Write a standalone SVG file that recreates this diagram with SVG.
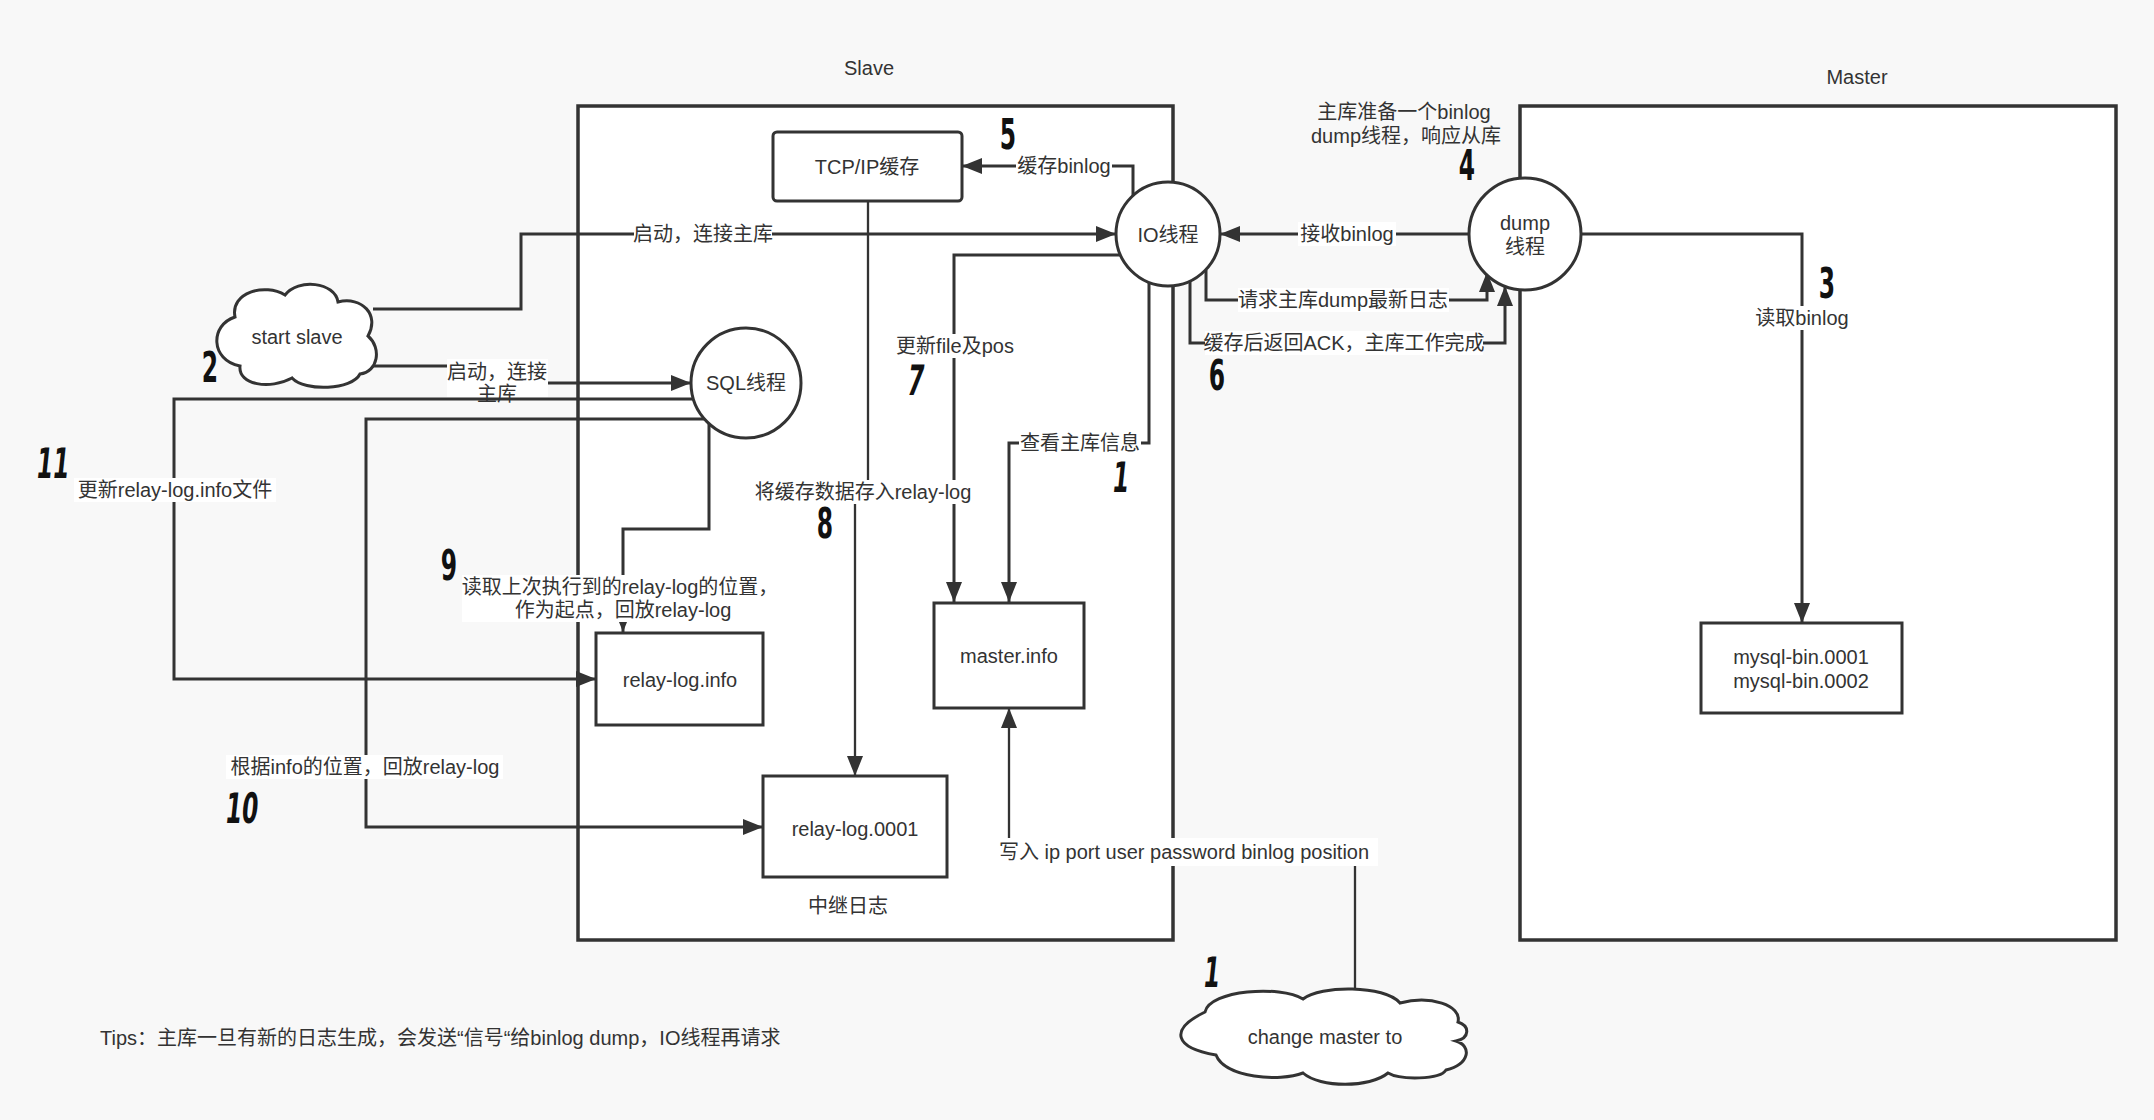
<svg xmlns="http://www.w3.org/2000/svg" width="2154" height="1120" viewBox="0 0 2154 1120">
<style>
text{font-family:"Liberation Sans","Noto Sans CJK SC",sans-serif;font-size:20px;fill:#333;}
.t{text-anchor:middle;dominant-baseline:central;}
.tl{text-anchor:start;dominant-baseline:central;}
.box{fill:#fff;stroke:#333;stroke-width:3;}
.frame{fill:#fff;stroke:#333;stroke-width:3.5;}
.c{fill:none;stroke:#333;stroke-width:3;}
.ct{fill:none;stroke:#333;stroke-width:2.3;}
.lb{fill:#fff;stroke:none;}
.num{font-family:"DejaVu Sans Condensed","Liberation Sans",sans-serif;font-size:42px;font-weight:bold;fill:#111;text-anchor:middle;dominant-baseline:central;}
</style>
<defs>
<marker id="ah" viewBox="0 0 20 16" refX="20" refY="8" markerWidth="20" markerHeight="16" markerUnits="userSpaceOnUse" orient="auto"><path d="M0,0 L20,8 L0,16 Z" fill="#333"/></marker>
</defs>
<rect x="0" y="0" width="2154" height="1120" fill="#f8f8f8"/>

<g id="slave-frame"><rect class="frame" x="578" y="106" width="595" height="834"/><text class="t" x="869" y="68">Slave</text></g>
<g id="master-frame"><rect class="frame" x="1520" y="106" width="596" height="834"/><text class="t" x="1857" y="77">Master</text></g>

<g id="connectors">
<path class="c" d="M373,309 H521 V234 H1116" marker-end="url(#ah)"/>
<path class="c" d="M372,366 H497 V383 H691" marker-end="url(#ah)"/>
<path class="c" d="M693,399 H174 V679 H596" marker-end="url(#ah)"/>
<path class="c" d="M704,419 H366 V827 H763" marker-end="url(#ah)"/>
<path class="c" d="M709,424 V529 H623 V632" marker-end="url(#ah)"/>
<path class="c" d="M1133,196 V166 H962" marker-end="url(#ah)"/>
<path class="ct" d="M868,201 V492 H855 V776" marker-end="url(#ah)"/>
<path class="c" d="M1120,255 H954 V602" marker-end="url(#ah)"/>
<path class="c" d="M1149,282 V443 H1009 V602" marker-end="url(#ah)"/>
<path class="c" d="M1469,234 H1220" marker-end="url(#ah)"/>
<path class="c" d="M1206,270 V300 H1487 V272" marker-end="url(#ah)"/>
<path class="c" d="M1190,281 V343 H1505 V286" marker-end="url(#ah)"/>
<path class="c" d="M1581,234 H1802 V623" marker-end="url(#ah)"/>
<path class="ct" d="M1355,992 V852 H1009 V708" marker-end="url(#ah)"/>
</g>

<g id="edge-labels">
<rect class="lb" x="634" y="222" width="138" height="24"/><text class="t" x="703" y="234">启动，连接主库</text>
<rect class="lb" x="447" y="359" width="101" height="38"/><text class="t" x="497" y="372">启动，连接</text><text class="t" x="497" y="394">主库</text>
<rect class="lb" x="74" y="478" width="202" height="24"/><text class="t" x="175" y="490">更新relay-log.info文件</text>
<rect class="lb" x="226" y="755" width="277" height="24"/><text class="t" x="365" y="767">根据info的位置，回放relay-log</text>
<rect class="lb" x="462" y="575" width="312" height="47"/><text class="t" x="620" y="587">读取上次执行到的relay-log的位置，</text><text class="t" x="623" y="610">作为起点，回放relay-log</text>
<rect class="lb" x="1016" y="154" width="96" height="24"/><text class="t" x="1064" y="166">缓存binlog</text>
<rect class="lb" x="751" y="480" width="224" height="24"/><text class="t" x="863" y="492">将缓存数据存入relay-log</text>
<rect class="lb" x="893" y="334" width="124" height="24"/><text class="t" x="955" y="346">更新file及pos</text>
<rect class="lb" x="1019" y="431" width="122" height="24"/><text class="t" x="1080" y="443">查看主库信息</text>
<rect class="lb" x="1298" y="222" width="98" height="24"/><text class="t" x="1347" y="234">接收binlog</text>
<rect class="lb" x="1238" y="288" width="211" height="24"/><text class="t" x="1343" y="300">请求主库dump最新日志</text>
<rect class="lb" x="1205" y="331" width="278" height="24"/><text class="t" x="1344" y="343">缓存后返回ACK，主库工作完成</text>
<rect class="lb" x="1755" y="306" width="95" height="24"/><text class="t" x="1802" y="318">读取binlog</text>
<rect class="lb" x="990" y="838" width="388" height="28"/><text class="t" x="1184" y="852">写入 ip port user password binlog position</text>
</g>

<g id="tcp-cache"><rect class="box" x="773" y="132" width="189" height="69" rx="4"/><text class="t" x="867" y="167">TCP/IP缓存</text></g>
<g id="io-thread"><circle class="box" cx="1168" cy="234" r="52"/><text class="t" x="1168" y="235">IO线程</text></g>
<g id="dump-thread"><circle class="box" cx="1525" cy="234" r="56"/><text class="t" x="1525" y="223">dump</text><text class="t" x="1525" y="247">线程</text></g>
<g id="sql-thread"><circle class="box" cx="746" cy="383" r="55"/><text class="t" x="746" y="383">SQL线程</text></g>
<g id="start-slave"><path class="box" d="M235,317 C230,292 265,283 285,295 C298,278 335,282 338,302 C362,296 380,315 368,336 C382,348 378,372 360,374 C352,390 305,392 292,378 C270,390 238,385 240,366 C210,360 210,325 235,317 Z"/><text class="t" x="297" y="337">start slave</text></g>
<g id="change-master"><path class="box" d="M1205,1012 C1210,990 1280,985 1303,999 C1320,985 1385,985 1400,1003 C1430,995 1462,1005 1458,1022 C1470,1026 1470,1038 1456,1041 C1472,1046 1470,1064 1446,1070 C1440,1080 1400,1080 1388,1073 C1370,1088 1320,1088 1303,1073 C1280,1082 1225,1078 1216,1055 C1175,1048 1168,1030 1205,1012 Z"/><text class="t" x="1325" y="1037">change master to</text></g>
<g id="relay-log-info"><rect class="box" x="596" y="633" width="167" height="92"/><text class="t" x="680" y="680">relay-log.info</text></g>
<g id="master-info"><rect class="box" x="934" y="603" width="150" height="105"/><text class="t" x="1009" y="656">master.info</text></g>
<g id="relay-log-0001"><rect class="box" x="763" y="776" width="184" height="101"/><text class="t" x="855" y="829">relay-log.0001</text><text class="t" x="848" y="906">中继日志</text></g>
<g id="mysql-bin"><rect class="box" x="1701" y="623" width="201" height="90"/><text class="t" x="1801" y="657">mysql-bin.0001</text><text class="t" x="1801" y="681">mysql-bin.0002</text></g>

<g id="notes">
<text class="t" x="1404" y="112">主库准备一个binlog</text>
<text class="t" x="1406" y="136">dump线程，响应从库</text>
<text class="tl" x="100" y="1038">Tips：主库一旦有新的日志生成，会发送“信号“给binlog dump，IO线程再请求</text>
</g>

<g id="step-numbers">
<text class="num" transform="translate(1008,135) scale(0.62,1)">5</text>
<text class="num" transform="translate(210,368) scale(0.62,1)">2</text>
<text class="num" transform="translate(916,380) skewX(-8) scale(0.62,1)">7</text>
<text class="num" transform="translate(1121,477) skewX(-6) scale(0.62,1)">1</text>
<text class="num" transform="translate(53,463) skewX(-6) scale(0.62,1)">11</text>
<text class="num" transform="translate(825,524) scale(0.62,1)">8</text>
<text class="num" transform="translate(449,566) scale(0.62,1)">9</text>
<text class="num" transform="translate(242,808) skewX(-6) scale(0.62,1)">10</text>
<text class="num" transform="translate(1827,284) scale(0.62,1)">3</text>
<text class="num" transform="translate(1467,166) scale(0.62,1)">4</text>
<text class="num" transform="translate(1217,376) scale(0.62,1)">6</text>
<text class="num" transform="translate(1212,972) skewX(-6) scale(0.62,1)">1</text>
</g>
</svg>
